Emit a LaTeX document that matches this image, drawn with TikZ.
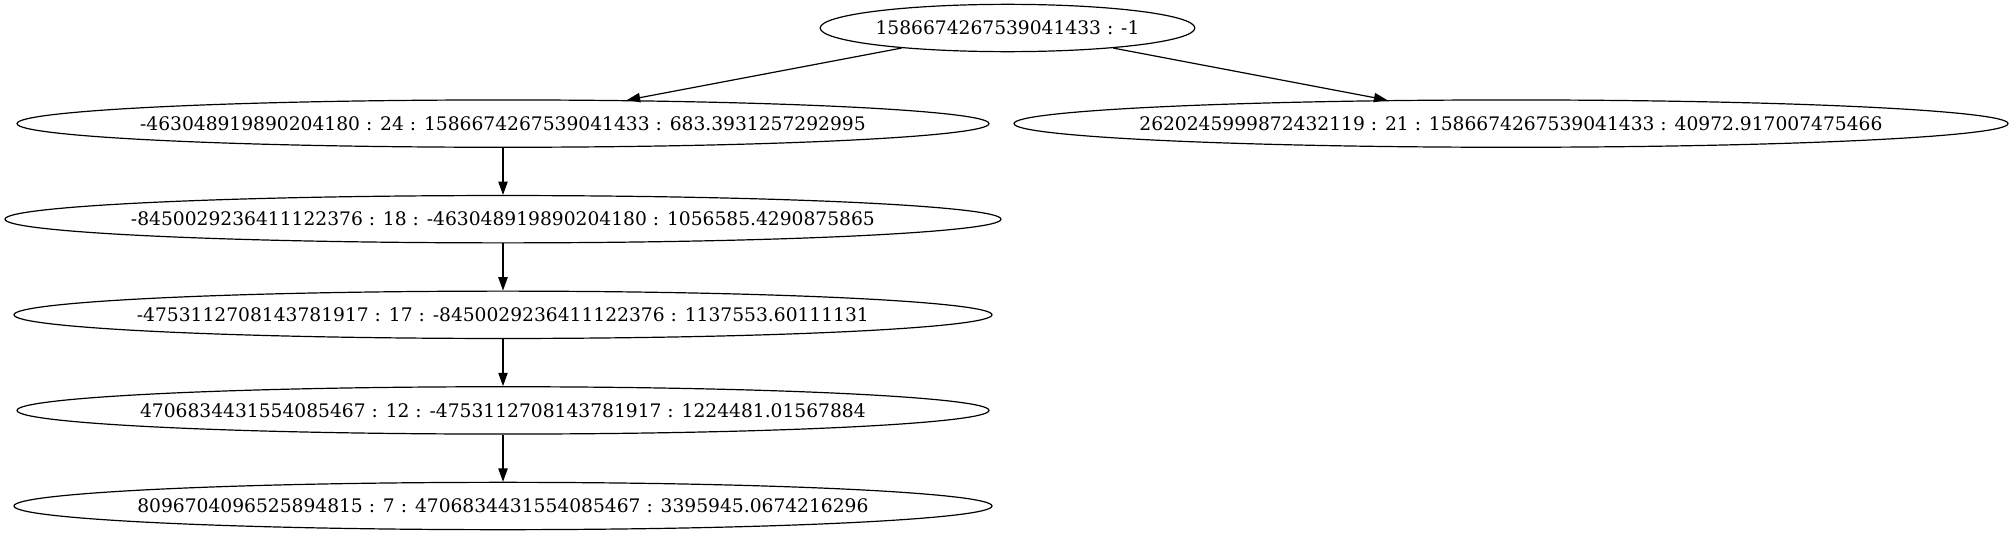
\documentclass[tikz,border=0pt]{standalone}
\usepackage{fontspec}
\setmainfont{DejaVu Serif}
\usetikzlibrary{shapes.geometric,arrows.meta}
\tikzset{
  gnode/.style={ellipse, draw, line width=0.9pt, inner sep=0pt, minimum height=35.5pt,
    font=\fontsize{14pt}{17pt}\selectfont},
  gedge/.style={draw, line width=0.9pt, -{Triangle[length=10pt,width=7pt]}}
}
\newcommand{\zt}[1]{\makebox[0pt]{#1}}
\begin{document}
\begin{tikzpicture}[x=0.75pt,y=-0.75pt]
\useasboundingbox (0,0) rectangle (2015,539);
\node[gnode, minimum width=281pt] (r) at (1007.5,28) {\zt{1586674267539041433 : -1}};
\node[gnode, minimum width=729pt] (a) at (503,123.6) {\zt{-463048919890204180 : 24 : 1586674267539041433 : 683.3931257292995}};
\node[gnode, minimum width=745.5pt] (b) at (1511,123.6) {\zt{2620245999872432119 : 21 : 1586674267539041433 : 40972.917007475466}};
\node[gnode, minimum width=747pt] (c) at (503,219.2) {\zt{-8450029236411122376 : 18 : -463048919890204180 : 1056585.4290875865}};
\node[gnode, minimum width=733.5pt] (d) at (503,314.8) {\zt{-4753112708143781917 : 17 : -8450029236411122376 : 1137553.60111131}};
\node[gnode, minimum width=729pt] (e) at (503,410.4) {\zt{4706834431554085467 : 12 : -4753112708143781917 : 1224481.01567884}};
\node[gnode, minimum width=733.5pt] (f) at (503,506) {\zt{8096704096525894815 : 7 : 4706834431554085467 : 3395945.0674216296}};
\draw[gedge] (r) -- (a);
\draw[gedge] (r) -- (b);
\draw[gedge] (a) -- (c);
\draw[gedge] (c) -- (d);
\draw[gedge] (d) -- (e);
\draw[gedge] (e) -- (f);
\end{tikzpicture}
\end{document}
